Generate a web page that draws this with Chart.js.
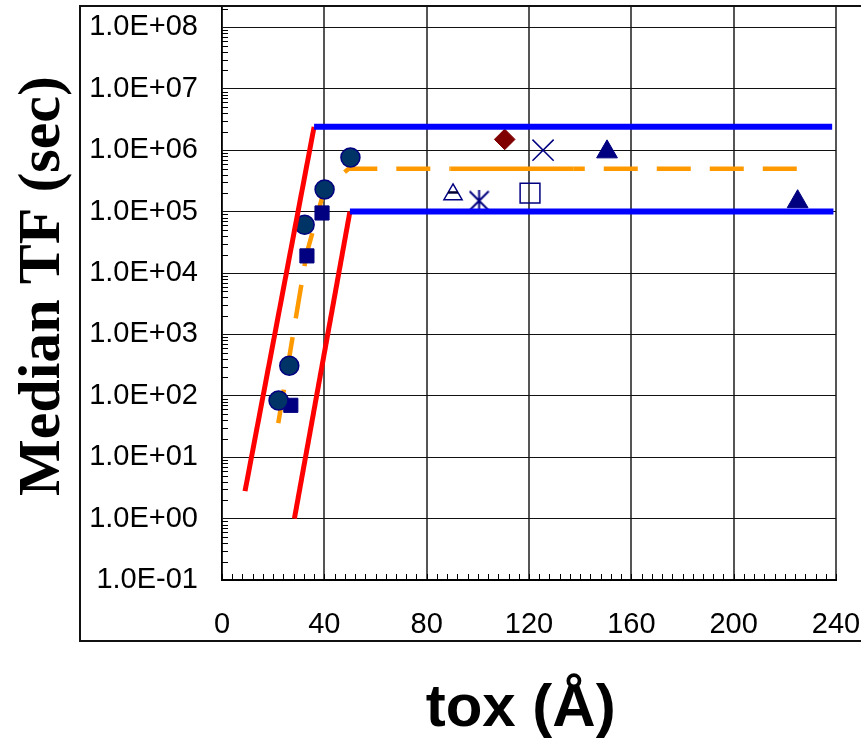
<!DOCTYPE html>
<html>
<head>
<meta charset="utf-8">
<script src="https://cdn.jsdelivr.net/npm/chart.js@4.4.1/dist/chart.umd.min.js"></script>
<style>
html,body{margin:0;padding:0;background:#fff;}
#wrap{width:861px;height:745px;position:relative;}
</style>
</head>
<body>
<div id="wrap"><canvas id="c"></canvas></div>
<script>
// ---- tick definitions ----
const xTickValues = [0, 40, 80, 120, 160, 200, 240];
const yTickValues = [1e-1, 1e0, 1e1, 1e2, 1e3, 1e4, 1e5, 1e6, 1e7, 1e8];
const yTickLabels = ['1.0E-01','1.0E+00','1.0E+01','1.0E+02','1.0E+03','1.0E+04','1.0E+05','1.0E+06','1.0E+07','1.0E+08'];
const xRange = [0, 240];
const yRange = [0.1, 2.15e8];
const xMinorStep = 4;
const yMinorMultipliers = [2, 3, 4, 5, 6, 7, 8, 9];

// ---- series (x = tox in Å, y = median TF in sec) ----
const blueUpper  = [[36, 2.4e6], [238.5, 2.4e6]];
const blueLower  = [[50, 1e5], [239, 1e5]];
const redLeft    = [[9, 2.8], [36, 2.4e6]];
const redRight   = [[28.3, 1.0], [50, 1e5]];
const orangeFit  = [[22, 36], [33, 2e4], [40, 2.3e5], [49.5, 5e5], [89.4, 5e5], [137.5, 5e5], [225, 5e5]];
const circles    = [[22.1, 84], [26.3, 310], [32.3, 6.1e4], [40.1, 2.3e5], [50.2, 7.6e5]];
const squares    = [[26.9, 70], [33.2, 1.9e4], [39.1, 9.5e4]];
const diamonds   = [[110.5, 1.5e6]];
const crosses    = [[125.5, 1.0e6]];
const triangles  = [[150.5, 9.4e5], [225, 1.45e5]];
const openTri    = [[90.3, 1.9e5]];
const openTriBar = [[90.3, 2.05e5]];
const asterisks  = [[100.5, 1.5e5]];
const openSquare = [[120.4, 2.0e5]];

const pts = a => a.map(p => ({x: p[0], y: p[1]}));

function makeAsterisk(size, color, lw) {
  const c = document.createElement('canvas');
  c.width = size; c.height = size;
  const g = c.getContext('2d');
  g.strokeStyle = color; g.lineWidth = lw;
  const p = 1;
  g.beginPath();
  g.moveTo(p, p); g.lineTo(size - p, size - p);
  g.moveTo(size - p, p); g.lineTo(p, size - p);
  g.moveTo(size / 2, 0); g.lineTo(size / 2, size);
  g.stroke();
  return c;
}

const NAVY = '#000080';

const lineDs = (data, color, width, extra) => Object.assign({
  data: pts(data), showLine: true, borderColor: color, borderWidth: width,
  pointRadius: 0, pointHoverRadius: 0, fill: false, tension: 0
}, extra || {});

const markerDs = (data, style, radius, bg, border, bw) => ({
  data: pts(data), showLine: false, pointStyle: style, pointRadius: radius,
  pointHoverRadius: radius, pointBackgroundColor: bg, pointBorderColor: border,
  pointBorderWidth: bw, backgroundColor: bg, borderColor: border
});

const zeroPad = () => ({left: 0, top: 0, right: 0, bottom: 0});

const outerBox = {
  id: 'outerBox',
  beforeDraw(chart) {
    const ctx = chart.ctx;
    ctx.save();
    ctx.fillStyle = '#fff';
    ctx.fillRect(0, 0, chart.width, chart.height);
    ctx.restore();
  },
  afterDraw(chart) {
    const ctx = chart.ctx;
    ctx.save();
    ctx.strokeStyle = '#111';
    ctx.lineWidth = 2;
    ctx.strokeRect(80, 6, 800, 635);
    ctx.restore();
  }
};

const innerTicks = {
  id: 'innerTicks',
  beforeDatasetsDraw(chart) {
    const {ctx, chartArea: a, scales: {x, y}} = chart;
    ctx.save();
    ctx.strokeStyle = '#000';
    ctx.lineWidth = 1;
    ctx.beginPath();
    for (let v = xRange[0]; v <= xRange[1]; v += xMinorStep) {
      const px = Math.round(x.getPixelForValue(v)) + 0.5;
      ctx.moveTo(px, a.bottom);
      ctx.lineTo(px, a.bottom - 6);
    }
    for (let e = -1; e <= 8; e++) {
      for (const m of yMinorMultipliers) {
        const v = m * Math.pow(10, e);
        if (v > yRange[1]) break;
        const py = Math.round(y.getPixelForValue(v)) + 0.5;
        ctx.moveTo(a.left, py);
        ctx.lineTo(a.left + 6, py);
      }
    }
    ctx.stroke();
    ctx.restore();
  }
};

new Chart(document.getElementById('c'), {
  type: 'scatter',
  data: {
    datasets: [
      lineDs(blueUpper, '#0000ff', 6),
      lineDs(blueLower, '#0000ff', 6),
      lineDs(redLeft, '#ff0000', 5),
      lineDs(redRight, '#ff0000', 5),
      markerDs(circles, 'circle', 9.5, '#003366', NAVY, 1.5),
      markerDs(squares, 'rect', 10, NAVY, NAVY, 1),
      markerDs(diamonds, 'rectRot', 10.3, '#800000', '#800000', 1),
      markerDs(crosses, 'crossRot', 15, NAVY, NAVY, 1.5),
      markerDs(triangles, 'triangle', 12, NAVY, NAVY, 1),
      markerDs(openTriBar, 'line', 5, '#000033', '#000033', 2.5),
      markerDs(openTri, 'triangle', 10.5, 'rgba(0,0,0,0)', NAVY, 1.5),
      markerDs(asterisks, makeAsterisk(21, NAVY, 2), 10, NAVY, NAVY, 1.5),
      markerDs(openSquare, 'rect', 14, 'rgba(0,0,0,0)', NAVY, 1.5),
      lineDs(orangeFit, '#ff9900', 4.5, {
        borderDash: [34, 19],
        segment: {
          borderDash: c => (c.p0DataIndex === 4 ? [] : [34, 19]),
          borderDashOffset: c => (c.p0DataIndex === 5 ? 23 : 0)
        }
      })
    ]
  },
  options: {
    responsive: true,
    maintainAspectRatio: false,
    animation: false,
    events: [],
    layout: {autoPadding: false, padding: {left: 0, top: 7, right: 25, bottom: 0}},
    plugins: {legend: {display: false}, tooltip: {enabled: false}},
    scales: {
      x: {
        type: 'linear',
        min: xRange[0], max: xRange[1],
        afterBuildTicks: s => { s.ticks = xTickValues.map(v => ({value: v})); },
        afterFit: s => { s.height = 165; s.paddingLeft = 0; s.paddingRight = 0; s.getPadding = zeroPad; },
        ticks: {
          color: '#000', padding: 28, maxRotation: 0, autoSkip: false,
          font: {family: '"Liberation Sans", Arial, sans-serif', size: 29}
        },
        grid: {color: '#555', lineWidth: 2, drawTicks: false},
        border: {color: '#000', width: 2},
        title: {
          display: true, text: 'tox (Å) ', color: '#000',
          font: {family: '"Liberation Sans", Arial, sans-serif', size: 60, weight: 'bold'},
          padding: {top: 0, bottom: 0}
        }
      },
      y: {
        type: 'logarithmic',
        min: yRange[0], max: yRange[1],
        afterBuildTicks: s => { s.ticks = yTickValues.map(v => ({value: v})); },
        afterFit: s => { s.width = 222; s.paddingTop = 0; s.paddingBottom = 0; s.getPadding = zeroPad; },
        ticks: {
          color: '#000', padding: 24, autoSkip: false,
          font: {family: '"Liberation Sans", Arial, sans-serif', size: 29},
          callback: (v) => {
            const i = yTickValues.findIndex(t => Math.abs(Math.log10(t) - Math.log10(v)) < 1e-6);
            return i >= 0 ? yTickLabels[i] : '';
          }
        },
        grid: {color: '#111', lineWidth: 1, drawTicks: false},
        border: {color: '#000', width: 1.5},
        title: {
          display: true, text: ' Median TF (sec)', color: '#000',
          font: {family: '"Liberation Serif", "Times New Roman", serif', size: 60, weight: 'bold'},
          padding: {top: 7, bottom: 0}
        }
      }
    }
  },
  plugins: [outerBox, innerTicks]
});
</script>
</body>
</html>
